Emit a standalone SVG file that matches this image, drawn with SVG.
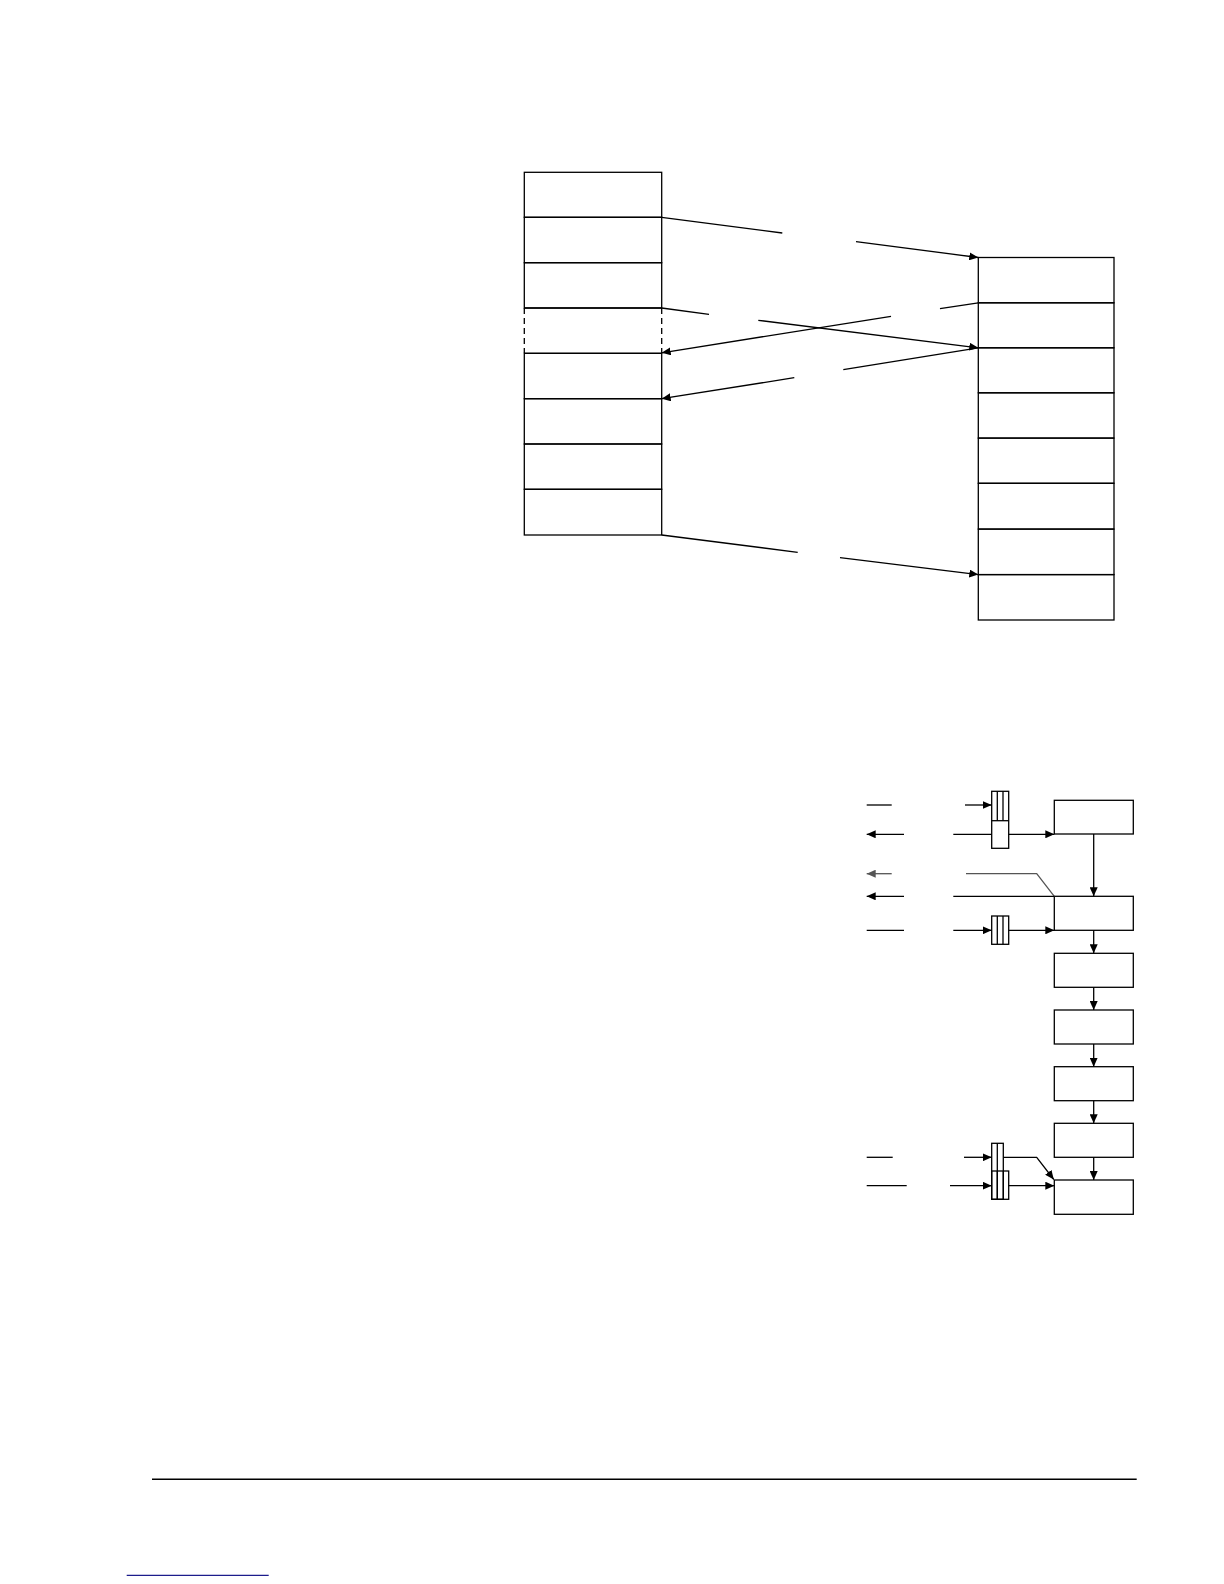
<svg xmlns="http://www.w3.org/2000/svg" width="1224" height="1584" viewBox="0 0 1224 1584">
<style>
.b{fill:none;stroke:#000;stroke-width:1.3}
.c{fill:none;stroke:#000;stroke-width:1.3}
.g{fill:none;stroke:#555;stroke-width:1.3}
.d{fill:none;stroke:#000;stroke-width:1.3;stroke-dasharray:6,4}
.a{marker-end:url(#ah)}
.ag{marker-end:url(#ahg)}
</style>
<defs>
<marker id="ah" markerUnits="userSpaceOnUse" markerWidth="10" markerHeight="8" refX="9" refY="4" orient="auto"><path d="M0,0 L9,4 L0,8 z" fill="#000"/></marker>
<marker id="ahg" markerUnits="userSpaceOnUse" markerWidth="10" markerHeight="8" refX="9" refY="4" orient="auto"><path d="M0,0 L9,4 L0,8 z" fill="#555"/></marker>
</defs>
<rect width="1224" height="1584" fill="#fff"/>
<g id="left-stack">
<g id="L1"><rect class="b" x="524.3" y="172.3" width="137.4" height="45"/></g>
<g id="L2"><rect class="b" x="524.3" y="217.3" width="137.4" height="45.4"/></g>
<g id="L3"><rect class="b" x="524.3" y="262.7" width="137.4" height="45.3"/></g>
<g id="L4"><line class="b" x1="524.3" y1="308" x2="661.7" y2="308"/><line class="b" x1="524.3" y1="353.3" x2="661.7" y2="353.3"/><line class="d" x1="524.3" y1="308" x2="524.3" y2="353.3"/><line class="d" x1="661.7" y1="308" x2="661.7" y2="353.3"/></g>
<g id="L5"><rect class="b" x="524.3" y="353.3" width="137.4" height="45.4"/></g>
<g id="L6"><rect class="b" x="524.3" y="398.7" width="137.4" height="45.3"/></g>
<g id="L7"><rect class="b" x="524.3" y="444" width="137.4" height="45.3"/></g>
<g id="L8"><rect class="b" x="524.3" y="489.3" width="137.4" height="45.7"/></g>
</g>
<g id="right-stack">
<g id="R1"><rect class="b" x="978.3" y="257.5" width="135.7" height="45.3"/></g>
<g id="R2"><rect class="b" x="978.3" y="302.8" width="135.7" height="45"/></g>
<g id="R3"><rect class="b" x="978.3" y="347.8" width="135.7" height="45"/></g>
<g id="R4"><rect class="b" x="978.3" y="392.8" width="135.7" height="45.3"/></g>
<g id="R5"><rect class="b" x="978.3" y="438.1" width="135.7" height="45.2"/></g>
<g id="R6"><rect class="b" x="978.3" y="483.3" width="135.7" height="45.8"/></g>
<g id="R7"><rect class="b" x="978.3" y="529.1" width="135.7" height="45.5"/></g>
<g id="R8"><rect class="b" x="978.3" y="574.6" width="135.7" height="45.4"/></g>
</g>
<g id="flow-boxes">
<g id="F1"><rect class="b" x="1054.3" y="800.3" width="79" height="33.7"/></g>
<g id="F2"><rect class="b" x="1054.3" y="896.3" width="79" height="34"/></g>
<g id="F3"><rect class="b" x="1054.3" y="953.3" width="79" height="34"/></g>
<g id="F4"><rect class="b" x="1054.3" y="1010" width="79" height="34"/></g>
<g id="F5"><rect class="b" x="1054.3" y="1066.7" width="79" height="34"/></g>
<g id="F6"><rect class="b" x="1054.3" y="1123.3" width="79" height="34"/></g>
<g id="F7"><rect class="b" x="1054.3" y="1180" width="79" height="34.3"/></g>
</g>
<g id="queues">
<g id="Q1"><rect class="b" x="991.7" y="791.3" width="17" height="57"/><line class="b" x1="991.7" y1="820.7" x2="1008.7" y2="820.7"/><line class="b" x1="997.3" y1="791.3" x2="997.3" y2="820.7"/><line class="b" x1="1003" y1="791.3" x2="1003" y2="820.7"/></g>
<g id="Q2"><rect class="b" x="991.7" y="916" width="17" height="28.3"/><line class="b" x1="997.3" y1="916" x2="997.3" y2="944.3"/><line class="b" x1="1003" y1="916" x2="1003" y2="944.3"/></g>
<g id="Q3"><rect class="b" x="991.7" y="1143.3" width="11.6" height="56"/><line class="b" x1="997.3" y1="1143.3" x2="997.3" y2="1199.3"/></g>
<g id="Q4"><rect class="b" x="991.7" y="1171" width="17" height="28.3"/><line class="b" x1="997.3" y1="1171" x2="997.3" y2="1199.3"/><line class="b" x1="1003.3" y1="1171" x2="1003.3" y2="1199.3"/></g>
</g>
<g id="connectors">
<line class="c" x1="661.7" y1="217.3" x2="782.3" y2="233"/>
<line class="c a" x1="856" y1="241.7" x2="978.3" y2="257.5"/>
<line class="c" x1="661.7" y1="308" x2="709" y2="314.3"/>
<line class="c a" x1="758.3" y1="320.3" x2="978.3" y2="347.8"/>
<line class="c" x1="978.3" y1="302.8" x2="940" y2="308.7"/>
<line class="c a" x1="891" y1="316.3" x2="661.7" y2="352.8"/>
<line class="c" x1="978.3" y1="347.8" x2="843.3" y2="369.7"/>
<line class="c a" x1="794.3" y1="377.7" x2="661.7" y2="398.7"/>
<line class="c" x1="661.7" y1="535" x2="797.7" y2="552.3"/>
<line class="c a" x1="840" y1="557.7" x2="978.3" y2="574.6"/>

<line class="c" x1="866.7" y1="805" x2="891.7" y2="805"/>
<line class="c a" x1="965" y1="805" x2="991.7" y2="805"/>
<line class="c a" x1="904" y1="834.3" x2="866.7" y2="834.3"/>
<line class="c" x1="953.3" y1="834.3" x2="991.7" y2="834.3"/>
<line class="c a" x1="1008.7" y1="834.3" x2="1054.3" y2="834.3"/>
<line class="g ag" x1="891.7" y1="873.7" x2="866.7" y2="873.7"/>
<polyline class="g" points="966,873.7 1036.7,873.7 1054.3,896.3"/>
<line class="c a" x1="904" y1="896.3" x2="866.7" y2="896.3"/>
<line class="c" x1="953.3" y1="896.3" x2="1054.3" y2="896.3"/>
<line class="c" x1="866.7" y1="930.3" x2="904" y2="930.3"/>
<line class="c a" x1="953.3" y1="930.3" x2="991.7" y2="930.3"/>
<line class="c a" x1="1008.7" y1="930.3" x2="1054.3" y2="930.3"/>

<line class="c a" x1="1093.7" y1="834" x2="1093.7" y2="896.3"/>
<line class="c a" x1="1093.7" y1="930.3" x2="1093.7" y2="953.3"/>
<line class="c a" x1="1093.7" y1="987.3" x2="1093.7" y2="1010"/>
<line class="c a" x1="1093.7" y1="1044" x2="1093.7" y2="1066.7"/>
<line class="c a" x1="1093.7" y1="1100.7" x2="1093.7" y2="1123.3"/>
<line class="c a" x1="1093.7" y1="1157.3" x2="1093.7" y2="1180"/>

<line class="c" x1="866.7" y1="1157.3" x2="892.7" y2="1157.3"/>
<line class="c a" x1="964" y1="1157.3" x2="991.7" y2="1157.3"/>
<polyline class="c a" points="1003.3,1157.3 1036.7,1157.3 1053.8,1179.5"/>
<line class="c" x1="866.7" y1="1185.7" x2="906.7" y2="1185.7"/>
<line class="c a" x1="950" y1="1185.7" x2="991.7" y2="1185.7"/>
<line class="c a" x1="1008.7" y1="1185.7" x2="1054.3" y2="1185.7"/>
</g>
<g id="footer">
<line x1="152" y1="1479.3" x2="1136.7" y2="1479.3" stroke="#000" stroke-width="1.5"/>
<line x1="126.7" y1="1575.3" x2="268.7" y2="1575.3" stroke="#1c1c8c" stroke-width="1.3"/>
</g>
</svg>
